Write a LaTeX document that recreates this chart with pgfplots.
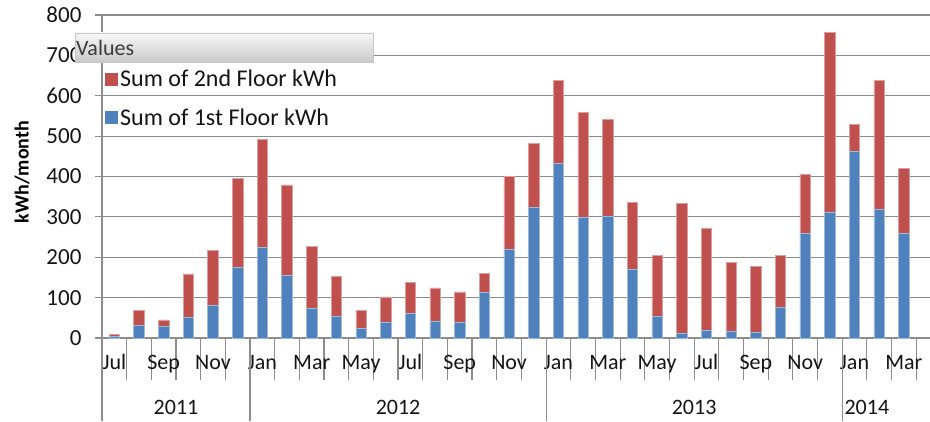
\documentclass[border=0pt]{standalone}
\usepackage{pgfplots}
\pgfplotsset{compat=1.18}
\usepackage{pgfplotstable}
\usepackage{graphicx}
\usepackage{fontspec}
\setmainfont{Carlito}
\definecolor{xred}{RGB}{192,80,77}
\definecolor{xblue}{RGB}{79,129,189}
\definecolor{gridc}{RGB}{140,140,140}
\definecolor{txt}{RGB}{20,20,20}

\pgfplotstableread{
x blue red
0 3 5
1 31 38
2 28 17
3 51 108
4 81 135
5 175 220
6 224 268
7 155 224
8 73 154
9 54 98
10 23 46
11 40 62
12 61 76
13 41 83
14 39 75
15 113 47
16 220 181
17 324 157
18 432 207
19 299 260
20 301 241
21 171 165
22 53 152
23 11 322
24 18 254
25 17 171
26 14 163
27 75 130
28 259 146
29 311 446
30 462 67
31 319 319
32 259 161
}\data

\begin{document}
\begin{tikzpicture}
\path[use as bounding box] (0,0) rectangle (930pt,421pt);
\begin{axis}[
  at={(102pt,83pt)}, anchor=south west,
  scale only axis, width=828pt, height=323pt,
  xmin=-0.5, xmax=33.06, ymin=0, ymax=800,
  clip=false,
  /pgf/number format/assume math mode=true,
  ybar stacked, bar width=10.5pt,
  axis lines*=left,
  axis line style={gridc, line width=1.2pt},
  ymajorgrids, grid style={gridc, line width=1.2pt},
  ytick={0,100,...,800},
  tick align=outside,
  major tick length=7pt,
  ytick style={gridc, line width=1.2pt},
  xtick={0,2,...,32},
  xticklabels={Jul,Sep,Nov,Jan,Mar,May,Jul,Sep,Nov,Jan,Mar,May,Jul,Sep,Nov,Jan,Mar},
  major x tick style={draw=none},
  minor xtick={-0.5,0.5,...,32.5},
  minor tick length=42pt,
  minor x tick style={gridc, line width=1.2pt},
  xticklabel style={font=\fontsize{22}{24}\selectfont, text=txt, anchor=base, yshift=-24pt},
  yticklabel style={font=\fontsize{23}{24}\selectfont, text=txt, xshift=-10pt},
  legend style={draw=none, fill=none, at={(0.0,0.842)}, anchor=north west,
    font=\fontsize{24}{27}\selectfont, text=txt, row sep=16pt,
    /tikz/every even column/.append style={column sep=11pt}},
  legend cell align=left,
  reverse legend,
  legend image code/.code={\fill[#1, draw=none] (0pt,-6.5pt) rectangle (13pt,6.5pt);},
]
\addplot[fill=xblue, draw=xblue!55!white, line width=0.6pt] table[x=x, y=blue] {\data};
\addlegendentry{Sum of 1st Floor kWh}
\addplot[fill=xred, draw=xred!55!white, line width=0.6pt] table[x=x, y=red] {\data};
\addlegendentry{Sum of 2nd Floor kWh}
\pgfplotsinvokeforeach{-0.5,5.5,17.5,29.5}{
  \draw[gridc, line width=1.2pt] (axis cs:#1,0) -- ([yshift=-83pt]axis cs:#1,0);
}
\node[font=\fontsize{22}{24}\selectfont, text=txt] at ([yshift=-69.5pt]axis cs:2.5,0) {2011};
\node[font=\fontsize{22}{24}\selectfont, text=txt] at ([yshift=-69.5pt]axis cs:11.5,0) {2012};
\node[font=\fontsize{22}{24}\selectfont, text=txt] at ([yshift=-69.5pt]axis cs:23.5,0) {2013};
\node[font=\fontsize{22}{24}\selectfont, text=txt] at ([yshift=-69.5pt]axis cs:30.5,0) {2014};
\end{axis}
\shade[top color=gray!6, bottom color=gray!42, draw=gray!45, line width=0.4pt] (75pt,359pt) rectangle (373pt,388pt);
\node[anchor=west, inner sep=1pt, font=\fontsize{22}{24}\selectfont, text={rgb,255:red,60;green,60;blue,60}] at (75pt,373.5pt) {Values};
\node[rotate=90, font=\bfseries\fontsize{20}{24}\selectfont, text=black] at (22pt,249pt) {kWh/month};
\end{tikzpicture}
\end{document}
